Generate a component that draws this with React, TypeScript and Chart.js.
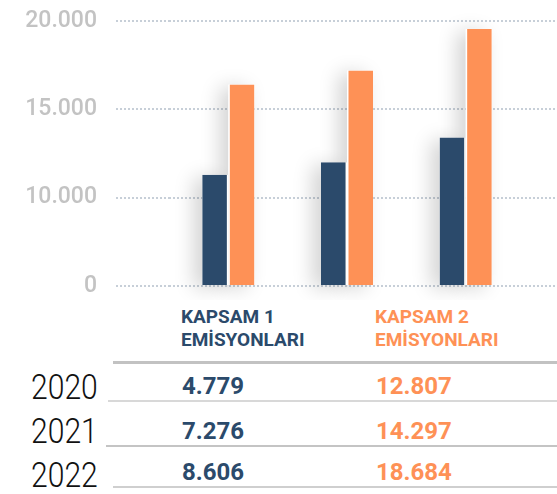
import React, { useEffect, useRef } from "react";
import { Chart, registerables } from "chart.js";

Chart.register(...registerables);

const years = ["2020", "2021", "2022"];
// bar heights (axis bottom labelled "0")
const scope1Bars = [11300, 12000, 13400];
const scope2Bars = [16400, 17200, 19550];
// table values
const scope1Values = ["4.779", "7.276", "8.606"];
const scope2Values = ["12.807", "14.297", "18.684"];
const yTickValues = [5000, 10000, 15000, 20000];
const yTickLabels = ["0", "10.000", "15.000", "20.000"];
const scope1Header = ["KAPSAM 1", "EMİSYONLARI"];
const scope2Header = ["KAPSAM 2", "EMİSYONLARI"];

const NAVY = "#2b4a6b";
const ORANGE = "#fe9156";
const GRID = "rgba(196,204,214,0.95)";

const shadowPlugin = {
  id: "barShadow",
  beforeDatasetsDraw(chart: any) {
    const ctx = chart.ctx;
    chart.data.datasets.forEach((_d: any, di: number) => {
      const meta = chart.getDatasetMeta(di);
      meta.data.forEach((el: any) => {
        const p = el.getProps(["x", "y", "base", "width"], true);
        ctx.save();
        ctx.shadowColor = "rgba(0,0,0,0.18)";
        ctx.shadowBlur = 20;
        ctx.shadowOffsetX = -8;
        ctx.shadowOffsetY = 3;
        ctx.fillStyle = "#ffffff";
        ctx.fillRect(p.x - p.width / 2, p.y, p.width, p.base - p.y);
        ctx.restore();
      });
    });
  },
};

function BarChart() {
  const ref = useRef<HTMLCanvasElement | null>(null);
  useEffect(() => {
    if (!ref.current) return;
    const chart = new Chart(ref.current, {
      type: "bar",
      data: {
        labels: years,
        datasets: [
          {
            label: scope1Header.join(" "),
            data: scope1Bars,
            base: yTickValues[0],
            backgroundColor: NAVY,
            borderColor: "#ffffff",
            borderWidth: { right: 1.5, left: 0, top: 0, bottom: 0 },
            borderSkipped: false,
          },
          {
            label: scope2Header.join(" "),
            data: scope2Bars,
            base: yTickValues[0],
            backgroundColor: ORANGE,
            borderColor: "#ffffff",
            borderWidth: { left: 1.5, right: 0, top: 0, bottom: 0 },
            borderSkipped: false,
          },
        ],
      },
      options: {
        responsive: false,
        animation: false,
        layout: { padding: { top: 21, bottom: 14, left: 0, right: 0 } },
        plugins: { legend: { display: false }, tooltip: { enabled: false } },
        datasets: {
          bar: { barPercentage: 1, categoryPercentage: 0.44 },
        },
        scales: {
          x: { display: false },
          y: {
            position: "left",
            min: 5000,
            max: 20000,
            afterBuildTicks: (s: any) => {
              s.ticks = yTickValues.map((v) => ({ value: v }));
            },
            afterFit: (s: any) => {
              s.width = 169;
              s.paddingTop = 0;
              s.paddingBottom = 0;
            },
            ticks: {
              padding: 19,
              color: "#c3c3c3",
              font: { family: "Roboto", size: 23, weight: "500" },
              callback: (v: any) => yTickLabels[yTickValues.indexOf(Number(v))] ?? "",
            },
            grid: {
              color: GRID,
              lineWidth: 2,
              drawTicks: true,
              tickLength: 53,
              tickBorderDash: [2, 2],
            },
            border: { display: false, dash: [2, 2] },
          },
          y2: {
            position: "right",
            min: 5000,
            max: 20000,
            afterBuildTicks: (s: any) => {
              s.ticks = yTickValues.map((v) => ({ value: v }));
            },
            afterFit: (s: any) => {
              s.width = 32;
              s.paddingTop = 0;
              s.paddingBottom = 0;
            },
            ticks: { display: false },
            grid: {
              color: GRID,
              lineWidth: 2,
              drawOnChartArea: false,
              drawTicks: true,
              tickLength: 32,
              tickBorderDash: [2, 2],
            },
            border: { display: false, dash: [2, 2] },
          },
        },
      },
      plugins: [shadowPlugin],
    } as any);
    return () => chart.destroy();
  }, []);
  return <canvas ref={ref} width={557} height={300} style={{ display: "block" }} />;
}

const abs = (o: React.CSSProperties): React.CSSProperties => ({ position: "absolute", whiteSpace: "nowrap", ...o });

export default function App() {
  const rowTops = [370, 414, 458];
  const valTops = [374, 419, 460];
  const lines = [
    { top: 400, left: 108, h: 2, c: "#d8d8d8" },
    { top: 445, left: 106, h: 1.5, c: "#c4c4c4" },
    { top: 486, left: 113, h: 2, c: "#cfcfcf" },
  ];
  const headFont: React.CSSProperties = {
    fontFamily: "Roboto, sans-serif",
    fontWeight: 700,
    fontSize: 19,
    lineHeight: "23px",
  };
  return (
    <div style={{ position: "absolute", left: 0, top: 0, width: 557, height: 494, background: "#fff", overflow: "hidden" }}>
      <BarChart />
      <div style={abs({ left: 181, top: 305, color: NAVY, ...headFont })}>
        {scope1Header.map((t) => (
          <div key={t}>{t}</div>
        ))}
      </div>
      <div style={abs({ left: 375, top: 305, color: ORANGE, ...headFont })}>
        {scope2Header.map((t) => (
          <div key={t}>{t}</div>
        ))}
      </div>
      <div style={abs({ left: 113, top: 361, width: 444, height: 3, background: "#c2c2c2" })} />
      {lines.map((l, i) => (
        <div key={i} style={abs({ left: l.left, top: l.top, width: 557 - l.left, height: l.h, background: l.c })} />
      ))}
      {years.map((y, i) => (
        <div
          key={y}
          style={abs({
            left: 31,
            top: rowTops[i],
            fontFamily: "Roboto, sans-serif",
            fontWeight: 300,
            fontSize: 35,
            lineHeight: "35px",
            color: "#111",
            transform: "scaleX(0.86)",
            transformOrigin: "left top",
          })}
        >
          {y}
        </div>
      ))}
      {scope1Values.map((v, i) => (
        <div
          key={"a" + i}
          style={abs({ left: 182, top: valTops[i], fontFamily: "Roboto, sans-serif", fontWeight: 700, fontSize: 24, lineHeight: "24px", color: NAVY })}
        >
          {v}
        </div>
      ))}
      {scope2Values.map((v, i) => (
        <div
          key={"b" + i}
          style={abs({ left: 376, top: valTops[i], fontFamily: "Roboto, sans-serif", fontWeight: 700, fontSize: 24, lineHeight: "24px", color: ORANGE })}
        >
          {v}
        </div>
      ))}
    </div>
  );
}
